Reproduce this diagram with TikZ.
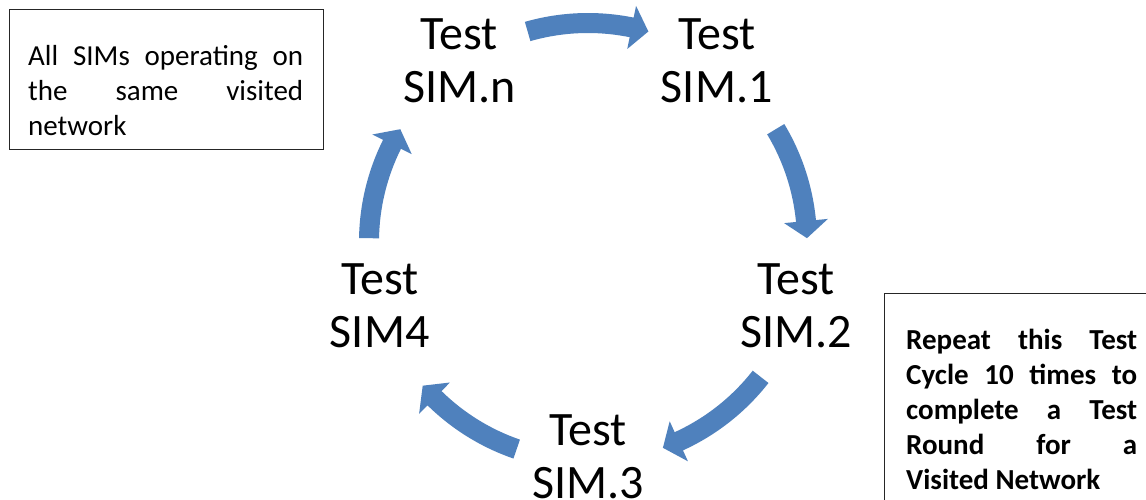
\documentclass[tikz,border=0pt]{standalone}
\usepackage{fontspec}
\setmainfont{Carlito}
\definecolor{arrowblue}{HTML}{4F81BD}
\newcommand\simcyclearrow[2]{%
  \pgfmathsetmacro\hb{#2+4.5}%
  \fill[cyclearrow] (#1:229) arc[start angle=#1, end angle=\hb, radius=229]
    -- (\hb:241) -- (#2:219) -- (\hb:197) -- (\hb:209)
    arc[start angle=\hb, end angle=#1, radius=209] -- cycle;}
\tikzset{
  simnode/.style={align=center, font=\fontsize{48}{53}\selectfont, inner sep=0pt},
  infobox/.style={draw=black!85, line width=0.9pt},
  infotext/.style={align=justify, font=\fontsize{29}{35}\selectfont, inner sep=0pt, anchor=north west},
  cyclearrow/.style={fill=arrowblue},
}
\begin{document}
\begin{tikzpicture}[x=1pt,y=1pt]
\useasboundingbox (0,0) rectangle (1146,-499);
\clip (0,0) rectangle (1146,-499);
\fill[white] (0,0) rectangle (1146,-499);
\begin{scope}[shift={(588,-242)}]
  \coordinate (c) at (0,0);
  \node[simnode] (simn) at ([yshift=4pt]126:219) {Test\\SIM.n};
  \node[simnode] (sim1) at ([yshift=4pt]54:219) {Test\\SIM.1};
  \node[simnode] (sim2) at ([yshift=4pt]-18:219) {Test\\SIM.2};
  \node[simnode] (sim3) at ([yshift=4pt]-90:219) {Test\\SIM.3};
  \node[simnode] (sim4) at ([yshift=4pt]198:219) {Test\\SIM4};
  \simcyclearrow{106}{74}
  \simcyclearrow{31}{1}
  \simcyclearrow{-38}{-70}
  \simcyclearrow{-109}{-139}
  \simcyclearrow{179}{149}
\end{scope}
\node[infobox, minimum width=314pt, minimum height=140pt, anchor=north west, inner sep=0pt] (boxL) at (9,-9) {};
\node[infotext, text width=275pt] (textL) at (28,-45)
  {All SIMs operating on\linebreak the same visited\linebreak network};
\node[infobox, minimum width=290pt, minimum height=230pt, anchor=north west, inner sep=0pt] (boxR) at (884,-293) {};
\node[infotext, text width=231pt, font=\fontsize{29}{35}\selectfont\bfseries] (textR) at (906,-329)
  {Repeat this Test\linebreak Cycle 10 times to\linebreak complete a Test\linebreak Round for a\linebreak Visited Network};
\end{tikzpicture}
\end{document}
